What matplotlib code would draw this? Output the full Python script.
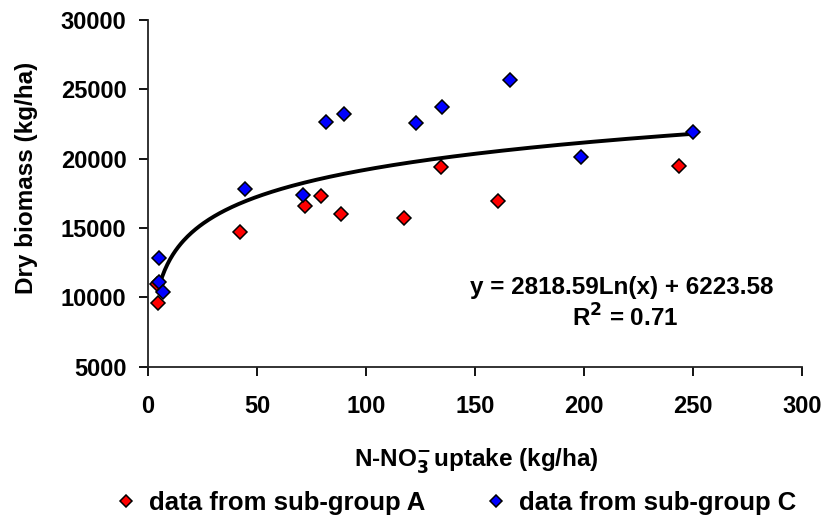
import numpy as np
import matplotlib.pyplot as plt

plt.rcParams['font.family'] = ['Liberation Sans', 'DejaVu Sans']
plt.rcParams['font.weight'] = 'bold'
plt.rcParams['mathtext.default'] = 'bf'

# sub-group A (red)
a_x = [4.4, 4.0, 42.3, 72.2, 79.5, 88.4, 117.4, 134.5, 160.7, 243.6]
a_y = [9570, 10950, 14730, 16590, 17290, 15990, 15740, 19380, 16920, 19470]

# sub-group C (blue)
c_x = [5.2, 5.2, 6.7, 44.6, 71.2, 81.8, 90.0, 122.8, 134.7, 166.1, 198.6, 249.7]
c_y = [12810, 11130, 10410, 17830, 17400, 22640, 23220, 22550, 23700, 25670, 20100, 21940]

# logarithmic trendline shown on the chart
slope = 2818.59
intercept = 6223.58
r2 = 0.71
fit_start, fit_end = 4.6, 250

fig = plt.figure(figsize=(8.27, 5.21), dpi=100)
ax = fig.add_axes([0.179, 0.296, 0.791, 0.666])

xs = np.linspace(fit_start, fit_end, 400)
ax.plot(xs, slope * np.log(xs) + intercept, color='black', lw=2.8, zorder=2)

ha, = ax.plot(a_x, a_y, linestyle='none', marker='D', ms=7, mfc='#ff0000', mec='black',
              mew=1.1, zorder=3)
hc, = ax.plot(c_x, c_y, linestyle='none', marker='D', ms=7, mfc='#0000ff', mec='black',
              mew=1.1, zorder=3)

ax.set_xlim(0, 300)
ax.set_ylim(5000, 30000)
ax.set_xticks(range(0, 301, 50))
ax.set_yticks(range(5000, 30001, 5000))
for s in ['top', 'right']:
    ax.spines[s].set_visible(False)
for s in ['left', 'bottom']:
    ax.spines[s].set_linewidth(1.3)
    ax.spines[s].set_color('#222222')
ax.tick_params(direction='out', length=6.5, width=1.3, labelsize=17)
ax.tick_params(axis='x', pad=14)
ax.tick_params(axis='y', pad=9)

ax.set_xlabel(r'N-NO$_3^{-}\!$ uptake (kg/ha)', fontsize=17.5, fontweight='bold')
ax.xaxis.set_label_coords(0.5015, -0.229)
ax.set_ylabel('Dry biomass (kg/ha)', fontsize=17.5, fontweight='bold')
ax.yaxis.set_label_coords(-0.168, 0.544)

fig.text(0.752, 0.449, f'y = {slope:.2f}Ln(x) + {intercept:.2f}', fontsize=17.5,
         fontweight='bold', ha='center', va='center')
fig.text(0.756, 0.390, 'R$^2$ = %.2f' % r2, fontsize=17.5, fontweight='bold',
         ha='center', va='center')

common = dict(loc='center left', frameon=False, fontsize=18.5, handlelength=1.0,
              handletextpad=0.4, borderpad=0, borderaxespad=0, markerscale=0.9)
fig.legend([ha], ['data from sub-group A'], bbox_to_anchor=(0.137, 0.034), **common)
fig.legend([hc], ['data from sub-group C'], bbox_to_anchor=(0.584, 0.034), **common)

fig.savefig('out.png', dpi=100)
